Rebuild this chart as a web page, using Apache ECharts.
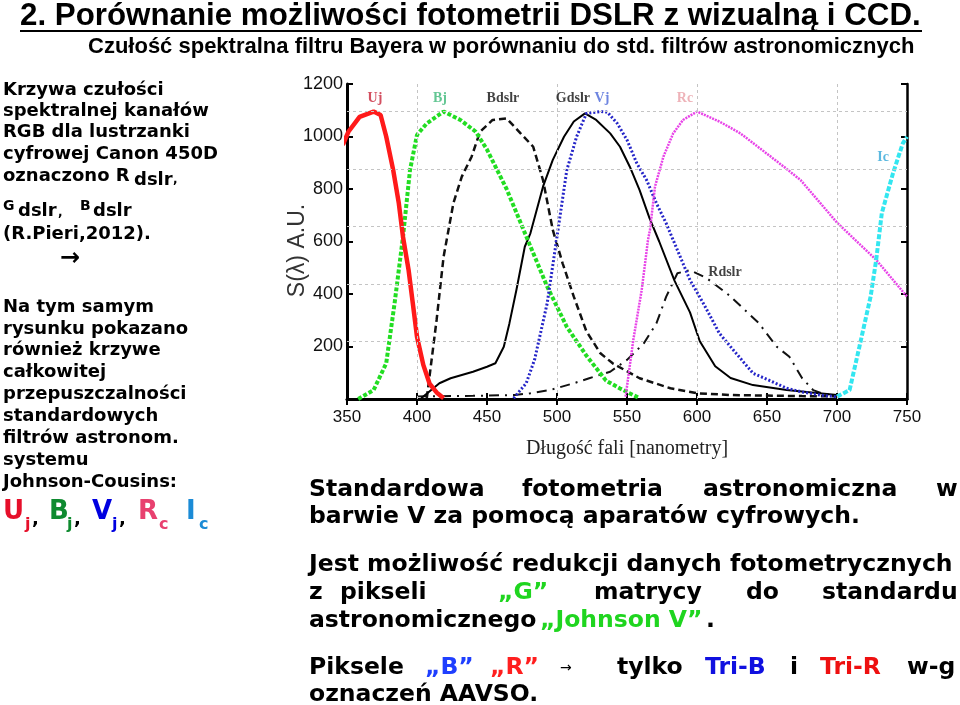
<!DOCTYPE html>
<html><head><meta charset="utf-8">
<script src="https://cdn.jsdelivr.net/npm/echarts/dist/echarts.min.js"></script>
<style>html,body{margin:0;padding:0;background:#fff}#c{width:960px;height:705px}</style>
</head><body><div id="c"></div>
<script>
// ---- data (wavelength nm, S(lambda) A.U.) ----
const ujX=[347,351,359,369,374,378,383,387,390,394,397,400,404.5,409,414,419];
const ujY=[968,1018,1075,1095,1082,1000,872,746,618,491,365,237,130,58,25,3];
const bjX=[358,369,378,384,390,395,400,407,419,431,442,450,464,478,493,507,521,535,545,559];
const bjY=[0,34,136,365,618,872,1006,1050,1095,1063,1018,950,800,620,428,275,165,70,40,3];
const bdX=[407,414,419,426,432,439,445,454,464,474,483,490,497,504,512,521,531,540,559,581,600,624,650,675,700];
const bdY=[3,301,542,746,847,923,1018,1063,1069,1012,961,834,644,517,390,258,174,135,79,41,22,15,13,11,10];
const gdX=[403,416,424,440,450,456,462,466,471,477,481,490,497,505,512,520,528,538,545,552,559,566,573,584,595,602,613,624,640,664,700];
const gdY=[3,60,79,104,123,136,199,288,415,580,631,809,911,999,1057,1088,1063,1012,961,885,796,690,600,450,330,220,125,80,53,34,15];
const vjX=[469,478,484,493,500,507,514,521,531,536,543,550,557,564,571,578,585,595,605,616,627,640,650,664,674,688,700];
const vjY=[3,60,150,365,618,872,999,1088,1095,1093,1050,987,898,834,746,669,580,453,360,250,180,98,75,41,28,15,8];
const rcX=[549,554.5,560.5,565,566.4,570,576,583,590,600,616,631,662,674,700,728,750];
const rcY=[9,225,415,606,644,809,923,1012,1063,1095,1057,1012,885,834,672,530,390];
const icX=[700,709,716,724,728,732,740,747,750];
const icY=[9,34,199,390,530,708,860,974,999];
const rdX=[400,440,470,481,495,512,523,538,550,562,571,578,586,595,607,623,644,657,666,675,683,690,700];
const rdY=[10,12,15,22,34,60,79,104,149,212,288,390,479,491,460,395,290,199,161,80,34,20,12];
// curve name labels
const labelText=['Uj','Bj','Bdslr','Gdslr','Vj','Rc','Ic','Rdslr'];
const labelX=[370,416.4,461.4,511.4,532.1,591.4,732.9,620];
const labelY=[1147,1147,1147,1147,1147,1147,922,484];
const labelColor=['#c8243a','#3cb878','#111','#111','#4a66d8','#eaa0a8','#33a8d8','#111'];
// axis ticks / gridlines
const xMin=350,xMax=750,xStep=50;
const yMin=0,yMax=1200,yStep=200;
const gridX=[400,500,600,700];
const gridY=[219,438,657,876,1095];

const pairs=(X,Y)=>X.map((x,i)=>[x,Y[i]]);
const chart=echarts.init(document.getElementById('c'),null,{renderer:'canvas'});

function line(name,X,Y,color,width,type,z){
  return {name,type:'line',data:pairs(X,Y),showSymbol:false,symbol:'none',smooth:false,z:z||3,
    lineStyle:{color,width,type},xAxisIndex:0,yAxisIndex:0,animation:false,clip:true};
}
const axisBlack={show:true,lineStyle:{color:'#000',width:2.5}};
const tickIn={show:true,inside:true,length:6,lineStyle:{color:'#000',width:2}};

const T=(text,x,y,font,fill,extra)=>Object.assign({type:'text',x,y,silent:true,
  style:{text,font,fill,align:'left',textAlign:'left',verticalAlign:'middle',textVerticalAlign:'middle'}},extra||{});
const LF='bold 18px "DejaVu Sans"';
const RF='bold 23.5px "DejaVu Sans"';
const green='#1fd51f';
const graphics=[
  T('2. Porównanie możliwości fotometrii DSLR z wizualną i CCD.',20,16,'bold 31.3px "Liberation Sans"','#000'),
  {type:'line',shape:{x1:20,y1:31,x2:922,y2:31},style:{stroke:'#000',lineWidth:2},silent:true},
  T('Czułość spektralna filtru Bayera w porównaniu do std. filtrów astronomicznych',88,47,'bold 22px "Liberation Sans"','#000'),
  T('Krzywa czułości',3,90,LF,'#000'),
  T('spektralnej kanałów',3,111,LF,'#000'),
  T('RGB dla lustrzanki',3,132,LF,'#000'),
  T('cyfrowej Canon 450D',3,154,LF,'#000'),
  T('oznaczono R',3,176,LF,'#000'),
  T('dslr',134,180,LF,'#000'),
  T(',',173,180,'bold 12px "DejaVu Sans"','#000'),
  T('G',3,206,'bold 14px "DejaVu Sans"','#000'),
  T('dslr',18,211,LF,'#000'),
  T(',',58,213,'bold 12px "DejaVu Sans"','#000'),
  T('B',80,206,'bold 14px "DejaVu Sans"','#000'),
  T('dslr',93,211,LF,'#000'),
  T('(R.Pieri,2012).',3,234,LF,'#000'),
  T('\u2192',60,259,'bold 24px "DejaVu Sans"','#000'),
  T('Na tym samym',3,307,LF,'#000'),
  T('rysunku pokazano',3,329,LF,'#000'),
  T('również krzywe',3,350,LF,'#000'),
  T('całkowitej',3,372,LF,'#000'),
  T('przepuszczalności',3,394,LF,'#000'),
  T('standardowych',3,416,LF,'#000'),
  T('filtrów astronom.',3,438,LF,'#000'),
  T('systemu',3,460,LF,'#000'),
  T('Johnson-Cousins:',3,482,LF,'#000'),
  T('U',3,512,'bold 26px "DejaVu Sans"','#e60f2a'),
  T('j',25,525,'bold 16px "DejaVu Sans"','#e60f2a'),
  T(',',32,519,'bold 18px "DejaVu Sans"','#000'),
  T('B',49,512,'bold 26px "DejaVu Sans"','#0e8a2f'),
  T('j',67,525,'bold 16px "DejaVu Sans"','#0e8a2f'),
  T(',',74,519,'bold 18px "DejaVu Sans"','#000'),
  T('V',92,512,'bold 26px "DejaVu Sans"','#0000e0'),
  T('j',112,525,'bold 16px "DejaVu Sans"','#0000e0'),
  T(',',119,519,'bold 18px "DejaVu Sans"','#000'),
  T('R',138,512,'bold 26px "DejaVu Sans"','#e8416f'),
  T('c',159,525,'bold 16px "DejaVu Sans"','#e8416f'),
  T('I',186,512,'bold 26px "DejaVu Sans"','#1b8bd6'),
  T('c',199,525,'bold 16px "DejaVu Sans"','#1b8bd6'),
  // right text
  T('Standardowa',309,490,RF,'#000'),
  T('fotometria',522,490,RF,'#000'),
  T('astronomiczna',703,490,RF,'#000'),
  T('w',936,490,RF,'#000'),
  T('barwie V za pomocą aparatów cyfrowych.',309,517,RF,'#000'),
  T('Jest możliwość redukcji danych fotometrycznych',309,565,RF,'#000'),
  T('z',309,593,RF,'#000'),
  T('pikseli',340,593,RF,'#000'),
  T('\u201EG\u201D',498,593,RF,green),
  T('matrycy',594,593,RF,'#000'),
  T('do',746,593,RF,'#000'),
  T('standardu',822,593,RF,'#000'),
  T('astronomicznego',309,621,RF,'#000'),
  T('\u201EJohnson V\u201D',540,621,RF,green),
  T('.',706,621,RF,'#000'),
  T('Piksele',309,668,RF,'#000'),
  T('\u201EB\u201D',425,668,RF,'#1f3fff'),
  T('\u201ER\u201D',490,668,RF,'#ff1f1f'),
  T('\u2192',560,668,'14px "DejaVu Sans"','#000'),
  T('tylko',617,668,RF,'#000'),
  T('Tri-B',705,668,RF,'#1010e0'),
  T('i',790,668,RF,'#000'),
  T('Tri-R',820,668,RF,'#ee1010'),
  T('w-g',907,668,RF,'#000'),
  T('oznaczeń AAVSO.',309,695,RF,'#000')
];

const option={
  animation:false,
  backgroundColor:'#fff',
  grid:{left:347,right:53,top:84,bottom:306,containLabel:false},
  xAxis:[
    {type:'value',position:'bottom',min:xMin,max:xMax,interval:xStep,
     axisLine:{show:true,lineStyle:{color:'#000',width:3}},axisTick:tickIn,
     axisLabel:{show:true,showMinLabel:true,showMaxLabel:true,margin:10,color:'#111',fontSize:17,fontFamily:'"Liberation Sans Narrow","Liberation Sans",Arial'},
     splitLine:{show:false},
     name:'Długość fali [nanometry]',nameLocation:'middle',nameGap:40,nameMoveOverlap:false,
     nameTextStyle:{fontFamily:'"Liberation Serif","Times New Roman",serif',fontSize:20,color:'#222'}},
    {type:'value',position:'top',min:xMin,max:xMax,interval:xStep,
     axisLine:axisBlack,axisTick:tickIn,axisLabel:{show:false},splitLine:{show:false}}
  ],
  yAxis:[
    {type:'value',position:'left',min:yMin,max:yMax,interval:yStep,
     axisLine:{show:true,lineStyle:{color:'#000',width:3}},axisTick:tickIn,
     axisLabel:{show:true,margin:4,color:'#111',fontSize:18,fontFamily:'"Liberation Sans Narrow","Liberation Sans",Arial',
       formatter:v=>v===0?'':String(v)},
     splitLine:{show:false},
     name:'S(λ) A.U.',nameLocation:'middle',nameGap:38,nameRotate:90,nameMoveOverlap:false,
     nameTextStyle:{fontFamily:'"Liberation Sans",Arial',fontSize:23,color:'#333',padding:[0,0,0,-18]}},
    {type:'value',position:'right',min:yMin,max:yMax,interval:yStep,
     axisLine:axisBlack,axisTick:tickIn,axisLabel:{show:false},splitLine:{show:false}}
  ],
  series:[
    {name:'grid',type:'line',data:[],z:1,silent:true,
     markLine:{silent:true,symbol:['none','none'],label:{show:false},animation:false,
       lineStyle:{color:'#c4c4c4',width:1,type:[3,3]},
       data:gridX.map(v=>({xAxis:v})).concat(gridY.map(v=>({yAxis:v})))}},
    line('Rdslr',rdX,rdY,'#111',2,[10,6,2,6]),
    line('Bdslr',bdX,bdY,'#111',2.5,[7,4]),
    line('Gdslr',gdX,gdY,'#000',2),
    line('Bj',bjX,bjY,'#22dd22',4,[4,2]),
    line('Vj',vjX,vjY,'#2525c8',3,[2,2]),
    line('Rc',rcX,rcY,'#e844e8',2.5,[2,1]),
    line('Ic',icX,icY,'#33e6f0',4,[5,2]),
    line('Uj',ujX,ujY,'#ff1a1a',4.5,'solid',4),
    {name:'labels',type:'scatter',symbolSize:0,z:5,silent:true,
     data:labelText.map((t,i)=>({value:[labelX[i],labelY[i]],name:t,
       label:{show:true,position:'inside',formatter:t,color:labelColor[i],
         fontFamily:'"Liberation Serif","Times New Roman",serif',fontWeight:'bold',fontSize:14}}))}
  ],
  graphic:graphics
};
chart.setOption(option);
</script>
</body></html>
